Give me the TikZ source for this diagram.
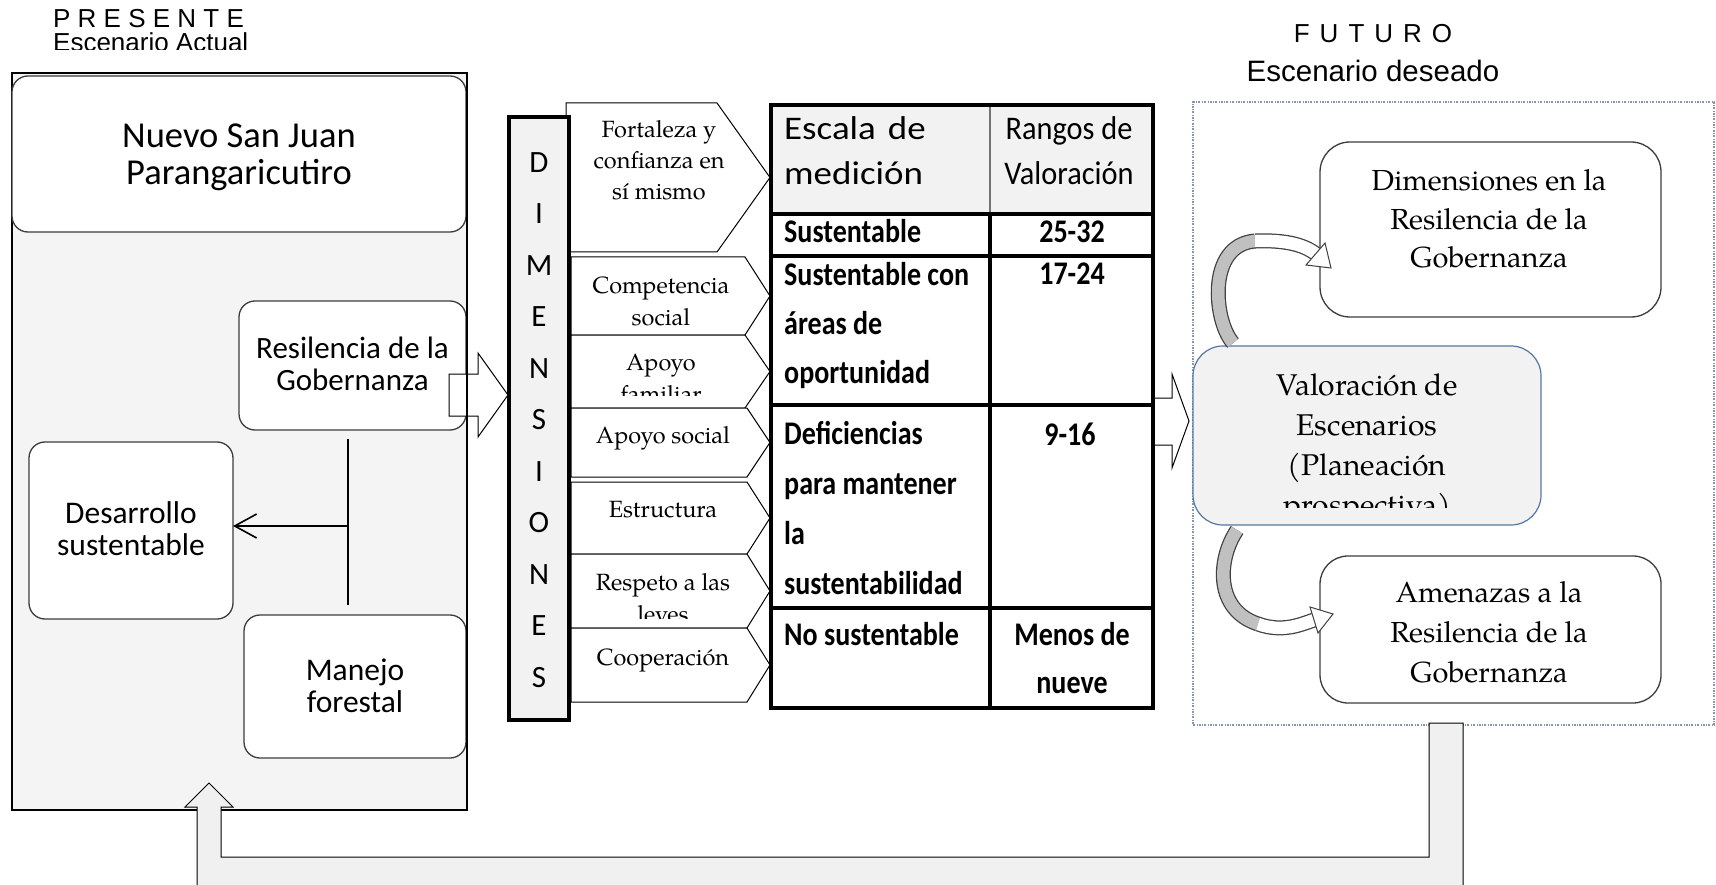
\documentclass[tikz,border=0pt]{standalone}
\usepackage{fontspec}
\usetikzlibrary{arrows.meta}
\setmainfont{Liberation Serif}
\newfontfamily\arialf{Liberation Sans}
\newfontfamily\calf{Carlito}
\newfontfamily\palf{TeX Gyre Pagella}
\newfontfamily\tabhl[FakeStretch=1.12]{Carlito}
\newfontfamily\tabhr[FakeStretch=0.92]{Carlito}
\newfontfamily\tabbf[FakeStretch=0.85]{Carlito}
\definecolor{leftbg}{HTML}{F4F4F4}
\definecolor{barbg}{HTML}{F2F2F2}
\definecolor{boxline}{HTML}{3C3C3C}
\definecolor{valline}{HTML}{5577A3}
\definecolor{dotline}{HTML}{8496AE}
\definecolor{curvgray}{HTML}{C0C0C0}
\definecolor{curvline}{HTML}{404040}
\definecolor{uarrow}{HTML}{F0F0F0}
\tikzset{
  outerbox/.style={draw=black, line width=2.5pt, fill=leftbg, inner sep=0pt, outer sep=0pt},
  rbox/.style={draw=boxline, line width=1.3pt, fill=white, rounded corners=16pt, inner sep=0pt, outer sep=0pt},
  txt/.style={inner sep=0pt, align=center, anchor=base, text=black},
  ltxt/.style={inner sep=0pt, align=left, anchor=base west, text=black},
  chev/.style={draw=black, line width=1pt, fill=white},
  blockarrow/.style={draw=black, line width=1pt, fill=white},
  tline/.style={line width=3.5pt, draw=black, line cap=rect},
  curvout/.style={line width=15pt, draw=curvline},
  curvin/.style={line width=12.5pt},
  headstyle/.style={draw=curvline, line width=1pt, fill=white, line join=miter},
}
\begin{document}
\begin{tikzpicture}[x=1pt, y=-1pt]
\useasboundingbox (0,0) rectangle (1716,885);
\clip (0,0) rectangle (1716,885);
\fill[white] (0,0) rectangle (1716,885);

% ---------- titles ----------
\node[ltxt, font=\arialf\fontsize{26}{30}\selectfont] (pres) at (53,28) {P R E S E N T E};
\begin{scope}
\clip (0,30) rectangle (520,50);
\node[ltxt, font=\arialf\fontsize{26}{30}\selectfont] (actual) at (53,52) {Escenario Actual};
\end{scope}
\node[txt, font=\arialf\fontsize{26}{30}\selectfont] (fut) at (1373,43)
  {F\hspace{10pt}U\hspace{10pt}T\hspace{10pt}U\hspace{10pt}R\hspace{10pt}O};
\node[txt, font=\arialf\fontsize{29.5}{30}\selectfont] (deseado) at (1373,82) {Escenario deseado};

% ---------- dotted future frame ----------
\node[draw=dotline, line width=1.2pt, dash pattern=on 2pt off 1.5pt on 0.6pt off 1.5pt,
      minimum width=521pt, minimum height=623pt, inner sep=0pt] (future) at (1453.5,413.5) {};

% ---------- left block ----------
\node[outerbox, minimum width=455pt, minimum height=737pt] (leftbox) at (239.5,441.5) {};
\node[rbox, minimum width=454pt, minimum height=156pt] (nuevo) at (239,154) {};
\node[txt, font=\calf\fontsize{36.5}{37}\selectfont] (nuevot) at (239,185) {Nuevo San Juan\\Parangaricutiro};
\node[rbox, minimum width=227pt, minimum height=129pt] (resil) at (352.5,365.5) {};
\node[txt, font=\calf\fontsize{31}{32}\selectfont] (resilt) at (352.5,390) {Resilencia de la\\Gobernanza};
\node[rbox, minimum width=204pt, minimum height=177pt] (desar) at (131,530.5) {};
\node[txt, font=\calf\fontsize{31.5}{32}\selectfont] (desart) at (131,555) {Desarrollo\\sustentable};
\node[rbox, minimum width=222pt, minimum height=143pt] (manejo) at (355,686.5) {};
\node[txt, font=\calf\fontsize{31.5}{32}\selectfont] (manejot) at (355,712) {Manejo\\forestal};

\coordinate (vtop) at (348,439);
\coordinate (vbot) at (348,605);
\coordinate (vmid) at (348,526);
\draw[line width=1.6pt] (vtop) -- (vbot);
\draw[line width=1.6pt, -{Straight Barb[length=22pt,width=24pt]}] (vmid) -- (desar.east |- vmid);

% block arrow to DIMENSIONES
\draw[blockarrow] (449,374) -- (478,374) -- (478,353) -- (508,395) -- (478,437) -- (478,416) -- (449,416) -- cycle;
\draw[line width=2.5pt] (leftbox.north east) -- (leftbox.south east);

% ---------- bottom U arrow ----------
\draw[line width=1pt, fill=uarrow, line join=miter] (197,900) -- (197,807) -- (185,807) -- (209,783) -- (233,807) -- (221,807) -- (221,857) -- (1429,857) -- (1429,723) -- (1463,723) -- (1463,900) -- cycle;

% ---------- chevrons ----------
\draw[chev] (566,103) -- (717,103) -- (770,177.5) -- (717,252) -- (566,252) -- cycle;
\draw[chev] (571,257) -- (745,257) -- (770,296) -- (745,335) -- (571,335) -- cycle;
\draw[chev] (571,335) -- (745,335) -- (770,371.5) -- (745,408) -- (571,408) -- cycle;
\draw[chev] (571,408) -- (747,408) -- (770,442.5) -- (747,477) -- (571,477) -- cycle;
\draw[chev] (571,482) -- (747,482) -- (770,518) -- (747,554) -- (571,554) -- cycle;
\draw[chev] (571,554) -- (747,554) -- (770,591) -- (747,628) -- (571,628) -- cycle;
\draw[chev] (571,628) -- (747,628) -- (770,665) -- (747,702) -- (571,702) -- cycle;

\node[txt, font=\palf\fontsize{23.5}{31}\selectfont] (c1) at (659,200) {Fortaleza y\\confianza en\\sí mismo};
\node[txt, font=\palf\fontsize{23.5}{32}\selectfont] (c2) at (661,325) {Competencia\\social};
\begin{scope}
\clip (575,336) rectangle (744,395);
\node[txt, font=\palf\fontsize{23.5}{32}\selectfont] (c3) at (661,402) {Apoyo\\familiar};
\end{scope}
\node[txt, font=\palf\fontsize{23.5}{32}\selectfont] (c4) at (663,443) {Apoyo social};
\node[txt, font=\palf\fontsize{23.5}{32}\selectfont] (c5) at (663,517) {Estructura};
\begin{scope}
\clip (575,555) rectangle (744,618);
\node[txt, font=\palf\fontsize{23.5}{32}\selectfont] (c6) at (663,622) {Respeto a las\\leyes};
\end{scope}
\node[txt, font=\palf\fontsize{23.5}{32}\selectfont] (c7) at (663,665) {Cooperación};

% DIMENSIONES bar
\node[draw=black, line width=4pt, fill=barbg, minimum width=60pt, minimum height=603pt, inner sep=0pt] (dimbar) at (539,418.5) {};
\node[txt, font=\calf\fontsize{31}{51.5}\selectfont] (dimletters) at (539,687) {D\\I\\M\\E\\N\\S\\I\\O\\N\\E\\S};

% ---------- table ----------
\draw[blockarrow] (1150,398) -- (1172,398) -- (1172,374) -- (1189,421) -- (1172,468) -- (1172,445) -- (1150,445) -- cycle;
\fill[white] (771,105) rectangle (1153,708);
\fill[barbg] (771,105) rectangle (1153,214);
\draw[line width=1.5pt, draw=black!55] (990,105) -- (990,214);
\draw[tline] (771,214) -- (1153,214);
\draw[tline] (771,256) -- (1153,256);
\draw[tline] (771,405) -- (1153,405);
\draw[tline] (771,608) -- (1153,608);
\draw[tline] (990,214) -- (990,708);
\draw[tline] (771,105) rectangle (1153,708);

\node[ltxt, font=\tabhl\fontsize{33}{45}\selectfont] (th1) at (784,185) {Escala\hspace{12pt}de\\medición};
\node[txt, font=\tabhr\fontsize{33}{45}\selectfont] (th2) at (1069,185) {Rangos de\\Valoración};
\node[ltxt, font=\tabbf\bfseries\fontsize{33}{49}\selectfont] (r1a) at (784,243) {Sustentable};
\node[txt, font=\tabbf\bfseries\fontsize{33}{49}\selectfont] (r1b) at (1072,243) {25-32};
\node[ltxt, font=\tabbf\bfseries\fontsize{33}{49}\selectfont] (r2a) at (784,383) {Sustentable con\\áreas de\\oportunidad};
\node[txt, font=\tabbf\bfseries\fontsize{33}{49}\selectfont] (r2b) at (1072,285) {17-24};
\node[ltxt, font=\tabbf\bfseries\fontsize{33}{49.7}\selectfont] (r3a) at (784,594) {Deficiencias\\para mantener\\la\\sustentabilidad};
\node[txt, font=\tabbf\bfseries\fontsize{33}{49}\selectfont] (r3b) at (1070,445) {9-16};
\node[ltxt, font=\tabbf\bfseries\fontsize{33}{49}\selectfont] (r4a) at (784,645) {No sustentable};
\node[txt, font=\tabbf\bfseries\fontsize{33}{48}\selectfont] (r4b) at (1072,693) {Menos de\\nueve};

% ---------- future boxes ----------
\node[draw=valline, line width=1.2pt, fill=barbg, rounded corners=30pt, minimum width=348pt, minimum height=179pt, inner sep=0pt] (valbox) at (1367,435.5) {};
\begin{scope}
\clip (1198,350) rectangle (1536,507);
\node[txt, font=\palf\fontsize{30}{40}\selectfont] (valt) at (1367,515) {Valoración de\\Escenarios\\(Planeación\\prospectiva)};
\end{scope}
\node[rbox, rounded corners=30pt, minimum width=341pt, minimum height=175pt] (dimbox) at (1490.5,229.5) {};
\node[txt, font=\palf\fontsize{29}{38.5}\selectfont] (dimt) at (1489,268) {Dimensiones en la\\Resilencia de la\\Gobernanza};
\node[rbox, rounded corners=28pt, minimum width=341pt, minimum height=147pt] (amebox) at (1490.5,629.5) {};
\node[txt, font=\palf\fontsize{29}{40}\selectfont] (amet) at (1489,682) {Amenazas a la\\Resilencia de la\\Gobernanza};

% curved arrow up (Valoracion -> Dimensiones)
\draw[curvout] (1233,343) .. controls (1214,322) and (1206,245) .. (1255,241);
\draw[curvout] (1255,241) .. controls (1280,240) and (1302,243) .. (1316,254);
\draw[curvin, draw=curvgray] (1233,343) .. controls (1214,322) and (1206,245) .. (1255,241);
\draw[curvin, draw=white] (1255,241) .. controls (1280,240) and (1302,243) .. (1316,254);
\draw[headstyle] (1325,243) -- (1331,268) -- (1306,265) -- cycle;

% curved arrow down (Valoracion -> Amenazas)
\draw[curvout] (1237,530) .. controls (1217,560) and (1215,610) .. (1258,624);
\draw[curvout] (1258,624) .. controls (1283,633) and (1302,624) .. (1314,620);
\draw[curvin, draw=curvgray] (1237,530) .. controls (1217,560) and (1215,610) .. (1258,624);
\draw[curvin, draw=white] (1258,624) .. controls (1283,633) and (1302,624) .. (1314,620);
\draw[headstyle] (1310,607) -- (1333,614) -- (1318,633) -- cycle;
\end{tikzpicture}
\end{document}
